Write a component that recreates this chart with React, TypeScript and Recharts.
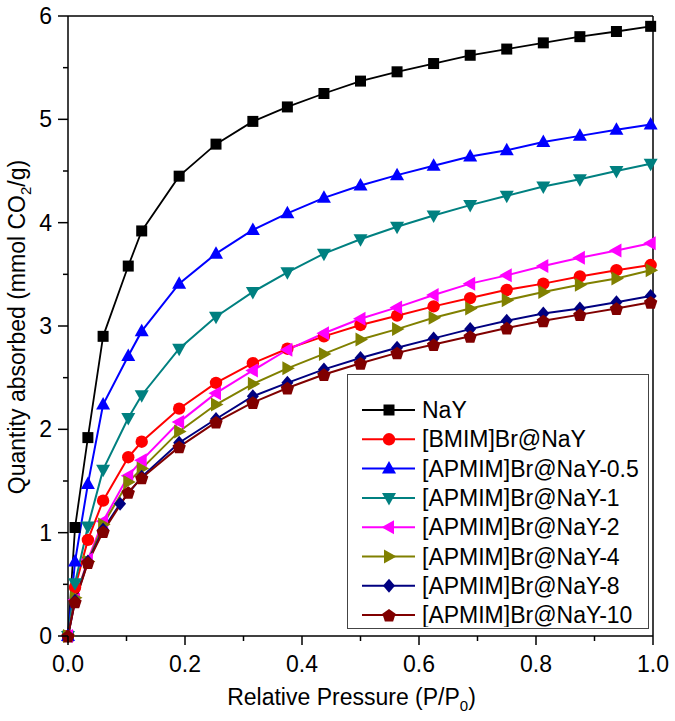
import React from 'react';
import { LineChart, Line, XAxis, YAxis, Legend, ReferenceLine } from 'recharts';

const FONT = '"Liberation Sans", Arial, Helvetica, sans-serif';

// relative pressure P/P0 of the measurement points
const pressure = [0, 0.012, 0.034, 0.06, 0.103, 0.126, 0.19, 0.253, 0.316, 0.375, 0.4375, 0.5, 0.5625, 0.625, 0.6875, 0.75, 0.8125, 0.875, 0.9375, 0.996];
const pressureAPMIM8 = [0, 0.012, 0.034, 0.06, 0.089, 0.126, 0.19, 0.253, 0.316, 0.375, 0.4375, 0.5, 0.5625, 0.625, 0.6875, 0.75, 0.8125, 0.875, 0.9375, 0.996];

// CO2 uptake (mmol/g)
const nay = [0, 1.05, 1.92, 2.9, 3.58, 3.92, 4.45, 4.76, 4.98, 5.12, 5.25, 5.37, 5.46, 5.54, 5.62, 5.68, 5.74, 5.8, 5.85, 5.9];
const bmim = [0, 0.47, 0.93, 1.31, 1.73, 1.88, 2.2, 2.45, 2.64, 2.78, 2.9, 3.01, 3.1, 3.19, 3.27, 3.35, 3.41, 3.48, 3.54, 3.59];
const apmim05 = [0, 0.72, 1.47, 2.24, 2.71, 2.95, 3.41, 3.7, 3.93, 4.09, 4.24, 4.36, 4.46, 4.55, 4.64, 4.7, 4.78, 4.84, 4.9, 4.95];
const apmim1 = [0, 0.51, 1.06, 1.61, 2.11, 2.33, 2.78, 3.09, 3.33, 3.52, 3.7, 3.84, 3.96, 4.07, 4.17, 4.26, 4.35, 4.42, 4.5, 4.57];
const apmim2 = [0, 0.35, 0.74, 1.11, 1.55, 1.7, 2.07, 2.35, 2.57, 2.77, 2.93, 3.07, 3.18, 3.3, 3.41, 3.49, 3.58, 3.66, 3.73, 3.8];
const apmim4 = [0, 0.37, 0.72, 1.08, 1.49, 1.62, 1.98, 2.24, 2.44, 2.59, 2.73, 2.87, 2.97, 3.08, 3.17, 3.25, 3.33, 3.4, 3.46, 3.54];
const apmim8 = [0, 0.34, 0.72, 1.03, 1.28, 1.54, 1.87, 2.1, 2.32, 2.45, 2.58, 2.69, 2.79, 2.88, 2.97, 3.05, 3.12, 3.17, 3.23, 3.29];
const apmim10 = [0, 0.33, 0.71, 1.01, 1.39, 1.53, 1.83, 2.07, 2.26, 2.4, 2.53, 2.64, 2.74, 2.82, 2.9, 2.98, 3.05, 3.11, 3.17, 3.23];

const xTicks = [0, 0.1, 0.2, 0.3, 0.4, 0.5, 0.6, 0.7, 0.8, 0.9, 1.0];
const yTicks = [0, 0.5, 1, 1.5, 2, 2.5, 3, 3.5, 4, 4.5, 5, 5.5, 6];

type Shape = 'square' | 'circle' | 'up' | 'down' | 'left' | 'right' | 'diamond' | 'pentagon';

const series: { name: string; x: number[]; y: number[]; color: string; shape: Shape }[] = [
  { name: 'NaY', x: pressure, y: nay, color: '#000000', shape: 'square' },
  { name: '[BMIM]Br@NaY', x: pressure, y: bmim, color: '#ff0000', shape: 'circle' },
  { name: '[APMIM]Br@NaY-0.5', x: pressure, y: apmim05, color: '#0000ff', shape: 'up' },
  { name: '[APMIM]Br@NaY-1', x: pressure, y: apmim1, color: '#008080', shape: 'down' },
  { name: '[APMIM]Br@NaY-2', x: pressure, y: apmim2, color: '#ff00ff', shape: 'left' },
  { name: '[APMIM]Br@NaY-4', x: pressure, y: apmim4, color: '#808000', shape: 'right' },
  { name: '[APMIM]Br@NaY-8', x: pressureAPMIM8, y: apmim8, color: '#000080', shape: 'diamond' },
  { name: '[APMIM]Br@NaY-10', x: pressure, y: apmim10, color: '#800000', shape: 'pentagon' },
];

function Marker({ shape, cx, cy, color }: { shape: Shape; cx: number; cy: number; color: string }) {
  const pts = (arr: number[][]) => arr.map(([a, b]) => `${cx + a},${cy + b}`).join(' ');
  switch (shape) {
    case 'square':
      return <rect x={cx - 5.5} y={cy - 5.5} width={11} height={11} fill={color} />;
    case 'circle':
      return <circle cx={cx} cy={cy} r={6.2} fill={color} />;
    case 'up':
      return <polygon points={pts([[0, -7.5], [7, 5], [-7, 5]])} fill={color} />;
    case 'down':
      return <polygon points={pts([[0, 7.5], [7, -5], [-7, -5]])} fill={color} />;
    case 'left':
      return <polygon points={pts([[-7.5, 0], [5, -7], [5, 7]])} fill={color} />;
    case 'right':
      return <polygon points={pts([[7.5, 0], [-5, -7], [-5, 7]])} fill={color} />;
    case 'diamond':
      return <polygon points={pts([[0, -7], [6, 0], [0, 7], [-6, 0]])} fill={color} />;
    default: {
      const r = 7;
      const p = [0, 1, 2, 3, 4].map((k) => {
        const a = -Math.PI / 2 + (k * 2 * Math.PI) / 5;
        return [r * Math.cos(a), r * Math.sin(a) + 0.8];
      });
      return <polygon points={pts(p)} fill={color} />;
    }
  }
}

function XTick({ x, y, payload }: any) {
  const v = payload.value;
  const major = Math.round(v * 10) % 2 === 0;
  return (
    <g>
      <line x1={x} y1={y} x2={x} y2={y + (major ? 9 : 5)} stroke="#000" strokeWidth={1.5} />
      {major && (
        <text x={x} y={y + 36} textAnchor="middle" fontFamily={FONT} fontSize={23} fill="#000">
          {v.toFixed(1)}
        </text>
      )}
    </g>
  );
}

function YTick({ x, y, payload }: any) {
  const v = payload.value;
  const major = Number.isInteger(v);
  return (
    <g>
      <line x1={x} y1={y} x2={x - (major ? 10 : 5)} y2={y} stroke="#000" strokeWidth={1.5} />
      {major && (
        <text x={x - 16} y={y + 8} textAnchor="end" fontFamily={FONT} fontSize={23} fill="#000">
          {v}
        </text>
      )}
    </g>
  );
}

function XTitle({ viewBox }: any) {
  const cx = viewBox.x + viewBox.width / 2 - 9;
  return (
    <text x={cx} y={705} textAnchor="middle" fontFamily={FONT} fontSize={23} fill="#000">
      Relative Pressure (P/P
      <tspan fontSize={15} dy={6}>0</tspan>
      <tspan dy={-6}>)</tspan>
    </text>
  );
}

function YTitle() {
  return (
    <text x={25} y={327} transform="rotate(-90, 25, 327)" textAnchor="middle" fontFamily={FONT} fontSize={23} fill="#000">
      Quantity absorbed (mmol CO
      <tspan fontSize={15} dy={6}>2</tspan>
      <tspan dy={-6}>/g)</tspan>
    </text>
  );
}

function LegendBox() {
  return (
    <div
      style={{
        width: 302,
        height: 255,
        boxSizing: 'border-box',
        border: '1.5px solid #444',
        background: '#fff',
        position: 'relative',
      }}
    >
      <svg width={300} height={252} style={{ position: 'absolute', left: 0, top: 0 }}>
        {series.map((s, i) => {
          const cy = 35 + i * 29.3;
          return (
            <g key={s.name}>
              <line x1={14} y1={cy} x2={67} y2={cy} stroke={s.color} strokeWidth={2} />
              <Marker shape={s.shape} cx={41} cy={cy} color={s.color} />
              <text x={74} y={cy + 8} fontFamily={FONT} fontSize={23} fill="#000">
                {s.name}
              </text>
            </g>
          );
        })}
      </svg>
    </div>
  );
}

export default function App() {
  return (
    <div style={{ position: 'absolute', left: 0, top: 0, width: 675, height: 721, background: '#fff' }}>
      <LineChart width={675} height={721} margin={{ top: 16, right: 22, bottom: 25, left: 8 }}>
        <XAxis
          type="number"
          dataKey="p"
          domain={[0, 1]}
          ticks={xTicks}
          tick={<XTick />}
          tickSize={0}
          tickMargin={0}
          tickLine={false}
          height={60}
          axisLine={{ stroke: '#000', strokeWidth: 1.5 }}
          label={<XTitle />}
          interval={0}
        />
        <YAxis
          type="number"
          domain={[0, 6]}
          ticks={yTicks}
          tick={<YTick />}
          tickSize={0}
          tickMargin={0}
          tickLine={false}
          width={60}
          axisLine={{ stroke: '#000', strokeWidth: 1.5 }}
          label={<YTitle />}
          interval={0}
        />
        <ReferenceLine y={6} stroke="#000" strokeWidth={1.5} />
        <ReferenceLine x={1} stroke="#000" strokeWidth={1.5} />
        {series.map((s) => (
          <Line
            key={s.name}
            name={s.name}
            data={s.x.map((p, i) => ({ p, q: s.y[i] }))}
            dataKey="q"
            type="linear"
            stroke={s.color}
            strokeWidth={s.shape === 'square' ? 1.8 : 2}
            isAnimationActive={false}
            dot={(props: any) => (
              <Marker key={`${s.name}-${props.index}`} shape={s.shape} cx={props.cx} cy={props.cy} color={s.color} />
            )}
            activeDot={false}
          />
        ))}
        <Legend
          layout="horizontal"
          verticalAlign="middle"
          content={<LegendBox />}
          wrapperStyle={{ left: 347, top: 374, width: 302, height: 255 }}
        />
      </LineChart>
    </div>
  );
}
